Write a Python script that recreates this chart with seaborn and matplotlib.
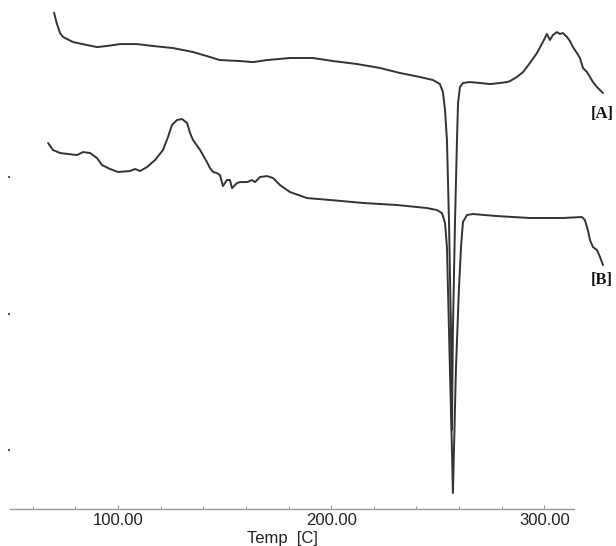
import numpy as np
import pandas as pd
import matplotlib
matplotlib.use("Agg")
import matplotlib.pyplot as plt
import seaborn as sns

# ---- data: temperature (C) and heat flow (arbitrary units) ----
temp_a = [70.0, 71.25, 72.8, 74.2, 78.9, 85.5, 90.15, 94.8, 100.9, 108.9, 116.4, 125.8,
          135.2, 141.7, 147.8, 157.2, 163.3, 169.9, 180.7, 191.5, 200.8, 212.1, 222.9,
          232.3, 241.6, 247.7, 251.0, 252.4, 253.4, 254.3, 255.25, 256.2, 256.65, 257.1,
          258.1, 259.0, 259.5, 260.4, 261.8, 265.1, 269.8, 274.5, 279.2, 282.5, 283.9,
          287.1, 290.0, 293.2, 296.5, 299.3, 301.2, 302.6, 304.0, 305.9, 307.3, 308.7,
          310.6, 312.0, 313.4, 315.3, 316.7, 318.1, 320.0, 321.4, 322.8, 324.7, 326.1, 327.5]
flow_a = [3.204, 3.128, 3.055, 3.026, 2.989, 2.967, 2.952, 2.960, 2.974, 2.974, 2.960, 2.945,
          2.916, 2.886, 2.857, 2.850, 2.842, 2.857, 2.872, 2.872, 2.850, 2.828, 2.799,
          2.762, 2.733, 2.711, 2.681, 2.623, 2.491, 2.271, 1.685, 0.879, 0.147, 0.879,
          1.685, 2.271, 2.542, 2.659, 2.689, 2.696, 2.689, 2.681, 2.689, 2.696, 2.703,
          2.733, 2.769, 2.835, 2.908, 2.989, 3.048, 3.004, 3.040, 3.062, 3.048, 3.055,
          3.026, 2.996, 2.952, 2.908, 2.872, 2.799, 2.769, 2.733, 2.696, 2.659, 2.637, 2.615]

temp_b = [67.2, 69.5, 72.8, 80.8, 83.6, 86.9, 90.15, 92.5, 96.25, 100.0, 105.6, 108.0,
          110.3, 113.6, 117.4, 121.1, 123.45, 125.3, 127.7, 130.0, 132.4, 133.8, 135.2,
          138.5, 141.7, 143.15, 144.6, 146.4, 147.8, 149.25, 151.1, 152.5, 153.5, 155.8,
          157.2, 160.5, 162.85, 164.3, 166.6, 169.9, 172.7, 176.0, 179.3, 180.7, 188.6,
          199.4, 214.9, 230.9, 244.9, 249.6, 252.0, 253.4, 254.3, 254.8, 255.7, 256.65,
          257.1, 257.6, 258.5, 259.9, 260.9, 261.8, 263.7, 266.5, 277.8, 293.2, 308.7,
          317.6, 319.0, 320.4, 321.4, 322.8, 324.7, 326.1, 327.5]
flow_b = [2.249, 2.198, 2.176, 2.161, 2.183, 2.176, 2.139, 2.088, 2.059, 2.037, 2.044, 2.059,
          2.044, 2.073, 2.125, 2.198, 2.293, 2.381, 2.418, 2.425, 2.396, 2.322, 2.271,
          2.198, 2.110, 2.066, 2.037, 2.029, 2.015, 1.934, 1.978, 1.978, 1.919, 1.956,
          1.963, 1.963, 1.978, 1.963, 2.000, 2.007, 1.993, 1.941, 1.905, 1.890, 1.846,
          1.832, 1.810, 1.795, 1.773, 1.758, 1.736, 1.663, 1.487, 1.172, 0.586, 0.0,
          -0.315, 0.0, 0.586, 1.172, 1.487, 1.670, 1.722, 1.729, 1.714, 1.700, 1.700,
          1.707, 1.685, 1.612, 1.538, 1.487, 1.465, 1.414, 1.355]

curve_labels = ["[A]", "[B]"]
label_pos_temp = [327.0, 327.0]
label_pos_flow = [2.462, 1.245]

major_ticks = [100, 200, 300]
minor_ticks = list(range(60, 301, 20))
y_ticks = [0, 1, 2]
x_label = "Temp  [C]"

# ---- plotting ----
sns.set_theme(style="white")
plt.rcParams["font.family"] = ["Liberation Sans", "DejaVu Sans"]

fig = plt.figure(figsize=(6.16, 5.46), dpi=100)
ax = fig.add_axes([10 / 616, 37 / 546, 606 / 616, 509 / 546])

df_a = pd.DataFrame({"temp": temp_a, "flow": flow_a})
df_b = pd.DataFrame({"temp": temp_b, "flow": flow_b})
line_color = "#333333"
sns.lineplot(data=df_a, x="temp", y="flow", ax=ax, color=line_color, lw=1.4,
             sort=False, estimator=None)
sns.lineplot(data=df_b, x="temp", y="flow", ax=ax, color=line_color, lw=1.4,
             sort=False, estimator=None)

ax.set_xlim(49.34, 333.6)
ax.set_ylim(-0.432, 3.297)

for sp in ["top", "right", "left"]:
    ax.spines[sp].set_visible(False)
ax.spines["bottom"].set_bounds(49.34, 313.9)
ax.spines["bottom"].set_color("#9a9a9a")
ax.spines["bottom"].set_linewidth(1.0)

ax.set_xticks(major_ticks)
ax.set_xticklabels([f"{t:.2f}" for t in major_ticks])
ax.set_xticks(minor_ticks, minor=True)
ax.tick_params(axis="x", which="both", bottom=True, direction="in", length=3,
               width=0.8, color="#9a9a9a", labelsize=12, labelcolor="#222222", pad=3)
ax.tick_params(axis="x", which="minor", length=2.5)

ax.set_yticks(y_ticks)
ax.set_yticklabels([])
ax.tick_params(axis="y", which="both", left=True, direction="out", length=1.2,
               width=1.5, color="#555555")

ax.set_xlabel(x_label, fontsize=12, color="#222222")
ax.set_ylabel("")
ax.xaxis.set_label_coords(0.450, -0.043)

for lab, tx, fy in zip(curve_labels, label_pos_temp, label_pos_flow):
    ax.text(tx, fy, lab, ha="center", va="center", fontsize=12, fontweight="bold",
            family=["Liberation Serif", "DejaVu Serif"], color="#111111")

fig.savefig("out.png", dpi=100)
